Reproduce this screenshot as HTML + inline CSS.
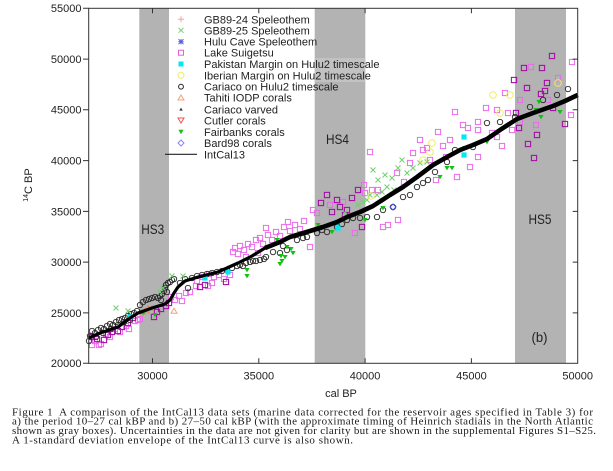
<!DOCTYPE html>
<html><head><meta charset="utf-8"><style>
html,body{margin:0;padding:0;background:#fff;}
svg{display:block;}
.sans{font-family:"Liberation Sans",Arial,sans-serif;}
.serif{font-family:"Liberation Serif","Times New Roman",serif;}
</style></head><body>
<svg width="613" height="471" viewBox="0 0 613 471" xmlns="http://www.w3.org/2000/svg">
<defs>
<rect id="sL" x="-2.6" y="-2.6" width="5.2" height="5.2" fill="none" stroke="#ec6aec" stroke-width="1"/>
<rect id="sD" x="-2.6" y="-2.6" width="5.2" height="5.2" fill="none" stroke="#a312a3" stroke-width="1.1"/>
<circle id="c" r="2.7" fill="none" stroke="#262626" stroke-width="0.9"/>
<path id="gx" d="M-2.5,-2.5L2.5,2.5M-2.5,2.5L2.5,-2.5" stroke="#6fd06f" stroke-width="1"/>
<path id="ox" d="M-2.5,-2.5L2.5,2.5M-2.5,2.5L2.5,-2.5" stroke="#e07a3a" stroke-width="1"/>
<path id="gt" d="M-2.6,-2L2.6,-2L0,2.4Z" fill="#12c012"/>
<rect id="cy" x="-2.6" y="-2.6" width="5.2" height="5.2" fill="#00e8f0"/>
<circle id="yc" r="3.3" fill="none" stroke="#eded60" stroke-width="1"/>
<path id="ot" d="M-3,2.2L3,2.2L0,-2.8Z" fill="none" stroke="#f4a080" stroke-width="1"/>
<path id="bd" d="M0,-3L3,0L0,3L-3,0Z" fill="none" stroke="#4848e0" stroke-width="1"/>
</defs>

<!-- gray HS boxes -->
<rect x="139.3" y="8.3" width="29.7" height="355" fill="#b3b3b3"/>
<rect x="314.7" y="8.3" width="50.6" height="355" fill="#b3b3b3"/>
<rect x="515" y="8.3" width="51" height="355" fill="#b3b3b3"/>
<rect x="314.7" y="58" width="50.6" height="24" fill="#c2c2c2"/>

<!-- light squares -->
<g>
<use href="#sL" x="95" y="341"/><use href="#sL" x="99" y="345"/><use href="#sL" x="92" y="345"/><use href="#sL" x="101" y="344"/><use href="#sL" x="106" y="334"/><use href="#sL" x="115" y="329"/><use href="#sL" x="126" y="326"/><use href="#sL" x="129" y="329"/><use href="#sL" x="140" y="319"/><use href="#sL" x="135" y="321"/><use href="#sL" x="110" y="337"/><use href="#sL" x="120" y="332"/><use href="#sL" x="138" y="320"/>
<use href="#sL" x="175" y="300"/><use href="#sL" x="179" y="296"/><use href="#sL" x="182" y="301"/><use href="#sL" x="186" y="293"/><use href="#sL" x="190" y="292"/><use href="#sL" x="171" y="297"/>
<use href="#sL" x="197" y="281"/><use href="#sL" x="203" y="277"/><use href="#sL" x="209" y="274"/><use href="#sL" x="214" y="277"/><use href="#sL" x="219" y="275"/><use href="#sL" x="224" y="279"/><use href="#sL" x="208" y="286"/><use href="#sL" x="212" y="283"/><use href="#sL" x="230" y="275"/><use href="#sL" x="196" y="286"/>
<use href="#sL" x="235" y="248"/><use href="#sL" x="240" y="246"/><use href="#sL" x="244" y="250"/><use href="#sL" x="248" y="244"/><use href="#sL" x="252" y="247"/><use href="#sL" x="256" y="240"/><use href="#sL" x="260" y="238"/><use href="#sL" x="263" y="244"/><use href="#sL" x="268" y="235"/><use href="#sL" x="272" y="240"/><use href="#sL" x="276" y="232"/><use href="#sL" x="280" y="236"/><use href="#sL" x="284" y="227"/><use href="#sL" x="290" y="231"/><use href="#sL" x="295" y="225"/><use href="#sL" x="300" y="229"/><use href="#sL" x="266" y="228"/><use href="#sL" x="288" y="222"/><use href="#sL" x="304" y="221"/><use href="#sL" x="258" y="253"/><use href="#sL" x="246" y="257"/><use href="#sL" x="238" y="254"/><use href="#sL" x="233" y="252"/>
<use href="#sL" x="310" y="247"/><use href="#sL" x="313" y="210"/><use href="#sL" x="317" y="213"/><use href="#sL" x="330" y="205"/><use href="#sL" x="343" y="202"/><use href="#sL" x="365" y="193"/><use href="#sL" x="372" y="190"/><use href="#sL" x="378" y="190"/><use href="#sL" x="383" y="227"/><use href="#sL" x="370" y="152"/><use href="#sL" x="413" y="153"/><use href="#sL" x="420" y="140"/><use href="#sL" x="397" y="173"/><use href="#sL" x="427" y="148"/><use href="#sL" x="355" y="233"/><use href="#sL" x="388" y="225"/><use href="#sL" x="398" y="220"/><use href="#sL" x="430" y="160"/><use href="#sL" x="436" y="180"/><use href="#sL" x="446" y="157"/><use href="#sL" x="404" y="182"/><use href="#sL" x="410" y="163"/><use href="#sL" x="364" y="185"/>
<use href="#sL" x="455" y="112"/><use href="#sL" x="463" y="125"/><use href="#sL" x="468" y="128"/><use href="#sL" x="478" y="122"/><use href="#sL" x="478" y="130"/><use href="#sL" x="497" y="110"/><use href="#sL" x="505" y="93"/><use href="#sL" x="508" y="113"/><use href="#sL" x="497" y="137"/><use href="#sL" x="478" y="157"/><use href="#sL" x="438" y="132"/><use href="#sL" x="423" y="150"/><use href="#sL" x="443" y="146"/><use href="#sL" x="470" y="167"/><use href="#sL" x="457" y="177"/><use href="#sL" x="492" y="133"/><use href="#sL" x="512" y="130"/><use href="#sL" x="520" y="122"/><use href="#sL" x="486" y="108"/><use href="#sL" x="502" y="146"/><use href="#sL" x="450" y="140"/>
<use href="#sL" x="572" y="62"/><use href="#sL" x="571" y="115"/><use href="#sL" x="531" y="67"/><use href="#sL" x="548" y="100"/><use href="#sL" x="558" y="78"/><use href="#sL" x="520" y="100"/><use href="#sL" x="536" y="125"/>
</g>
<!-- dark squares -->
<g>
<use href="#sD" x="92" y="337"/><use href="#sD" x="97" y="339"/><use href="#sD" x="104" y="340"/><use href="#sD" x="108" y="335"/><use href="#sD" x="112" y="332"/><use href="#sD" x="118" y="331"/><use href="#sD" x="122" y="327"/><use href="#sD" x="128" y="323"/><use href="#sD" x="133" y="318"/>
<use href="#sD" x="154" y="317"/><use href="#sD" x="161" y="309"/><use href="#sD" x="166" y="306"/><use href="#sD" x="169" y="303"/><use href="#sD" x="157" y="312"/>
<use href="#sD" x="200" y="287"/><use href="#sD" x="205" y="285"/><use href="#sD" x="226" y="282"/>
<use href="#sD" x="327" y="195"/><use href="#sD" x="337" y="200"/><use href="#sD" x="340" y="207"/><use href="#sD" x="347" y="210"/><use href="#sD" x="358" y="190"/><use href="#sD" x="362" y="227"/><use href="#sD" x="332" y="212"/><use href="#sD" x="352" y="198"/><use href="#sD" x="321" y="203"/><use href="#sD" x="345" y="215"/>
<use href="#sD" x="552" y="56"/><use href="#sD" x="524" y="68"/><use href="#sD" x="542" y="68"/><use href="#sD" x="514" y="80"/><use href="#sD" x="527" y="88"/><use href="#sD" x="541" y="94"/><use href="#sD" x="545" y="91"/><use href="#sD" x="519" y="128"/><use href="#sD" x="537" y="135"/><use href="#sD" x="553" y="108"/><use href="#sD" x="528" y="144"/><use href="#sD" x="534" y="158"/><use href="#sD" x="565" y="124"/><use href="#sD" x="516" y="113"/><use href="#sD" x="547" y="83"/>
</g>
<!-- circles (Cariaco on Hulu2) -->
<g>
<use href="#c" x="90" y="336"/><use href="#c" x="92" y="331"/><use href="#c" x="95" y="333"/><use href="#c" x="98" y="330"/><use href="#c" x="101" y="328"/><use href="#c" x="104" y="329"/><use href="#c" x="107" y="326"/><use href="#c" x="110" y="324"/><use href="#c" x="113" y="325"/><use href="#c" x="116" y="322"/><use href="#c" x="119" y="320"/><use href="#c" x="122" y="319"/><use href="#c" x="125" y="318"/><use href="#c" x="128" y="316"/><use href="#c" x="131" y="314"/><use href="#c" x="134" y="313"/><use href="#c" x="137" y="311"/><use href="#c" x="89" y="341"/><use href="#c" x="96" y="337"/><use href="#c" x="103" y="333"/><use href="#c" x="111" y="329"/><use href="#c" x="118" y="325"/><use href="#c" x="124" y="322"/><use href="#c" x="130" y="320"/>
<use href="#c" x="140" y="305"/><use href="#c" x="143" y="302"/><use href="#c" x="146" y="300"/><use href="#c" x="149" y="299"/><use href="#c" x="152" y="298"/><use href="#c" x="155" y="297"/><use href="#c" x="158" y="298"/><use href="#c" x="160" y="296"/><use href="#c" x="162" y="294"/><use href="#c" x="164" y="291"/><use href="#c" x="165" y="288"/><use href="#c" x="166" y="285"/><use href="#c" x="168" y="283"/><use href="#c" x="170" y="282"/><use href="#c" x="172" y="280"/><use href="#c" x="174" y="279"/><use href="#c" x="167" y="292"/><use href="#c" x="161" y="300"/>
<use href="#c" x="188" y="288"/><use href="#c" x="180" y="283"/><use href="#c" x="185" y="279"/><use href="#c" x="192" y="278"/><use href="#c" x="197" y="276"/><use href="#c" x="202" y="275"/><use href="#c" x="207" y="274"/><use href="#c" x="212" y="273"/><use href="#c" x="217" y="272"/><use href="#c" x="222" y="271"/><use href="#c" x="227" y="270"/><use href="#c" x="232" y="268"/><use href="#c" x="237" y="266"/><use href="#c" x="240" y="265"/><use href="#c" x="243" y="266"/><use href="#c" x="246" y="263"/><use href="#c" x="250" y="262"/><use href="#c" x="253" y="261"/><use href="#c" x="256" y="261"/><use href="#c" x="260" y="260"/><use href="#c" x="264" y="259"/><use href="#c" x="266" y="257"/><use href="#c" x="273" y="252"/><use href="#c" x="280" y="253"/><use href="#c" x="287" y="250"/><use href="#c" x="297" y="240"/><use href="#c" x="303" y="238"/><use href="#c" x="307" y="237"/><use href="#c" x="283" y="246"/>
<use href="#c" x="317" y="233"/><use href="#c" x="327" y="232"/><use href="#c" x="337" y="227"/><use href="#c" x="347" y="220"/><use href="#c" x="353" y="218"/><use href="#c" x="360" y="218"/><use href="#c" x="367" y="217"/><use href="#c" x="377" y="217"/><use href="#c" x="383" y="210"/><use href="#c" x="393" y="207"/><use href="#c" x="403" y="197"/><use href="#c" x="410" y="195"/><use href="#c" x="417" y="187"/><use href="#c" x="423" y="183"/><use href="#c" x="428" y="180"/><use href="#c" x="322" y="230"/><use href="#c" x="342" y="224"/>
<use href="#c" x="435" y="172"/><use href="#c" x="447" y="162"/><use href="#c" x="455" y="150"/><use href="#c" x="473" y="147"/><use href="#c" x="487" y="123"/><use href="#c" x="500" y="122"/><use href="#c" x="515" y="117"/>
<use href="#c" x="530" y="107"/><use href="#c" x="543" y="100"/><use href="#c" x="557" y="95"/><use href="#c" x="568" y="89"/>
</g>
<!-- green x -->
<g>
<use href="#gx" x="116" y="308"/><use href="#gx" x="128" y="311"/><use href="#gx" x="160" y="292"/><use href="#gx" x="163" y="288"/><use href="#gx" x="172" y="276"/><use href="#gx" x="183" y="276"/><use href="#gx" x="363" y="202"/><use href="#gx" x="367" y="200"/><use href="#gx" x="377" y="195"/><use href="#gx" x="382" y="192"/><use href="#gx" x="387" y="187"/><use href="#gx" x="407" y="173"/><use href="#gx" x="413" y="168"/><use href="#gx" x="420" y="163"/><use href="#gx" x="427" y="162"/><use href="#gx" x="373" y="170"/><use href="#gx" x="378" y="180"/><use href="#gx" x="385" y="175"/><use href="#gx" x="392" y="178"/><use href="#gx" x="398" y="168"/><use href="#gx" x="402" y="160"/><use href="#gx" x="370" y="195"/><use href="#gx" x="358" y="205"/><use href="#gx" x="345" y="213"/><use href="#gx" x="394" y="190"/>
<use href="#ox" x="143" y="312"/><use href="#ox" x="147" y="311"/><use href="#ox" x="150" y="308"/>
</g>
<!-- green triangles -->
<g>
<use href="#gt" x="143" y="313"/><use href="#gt" x="155" y="315"/><use href="#gt" x="247" y="276"/><use href="#gt" x="247" y="270"/><use href="#gt" x="282" y="261"/><use href="#gt" x="281" y="256"/><use href="#gt" x="285" y="257"/><use href="#gt" x="291" y="249"/><use href="#gt" x="280" y="264"/><use href="#gt" x="318" y="225"/><use href="#gt" x="322" y="227"/><use href="#gt" x="332" y="232"/><use href="#gt" x="365" y="220"/><use href="#gt" x="383" y="208"/><use href="#gt" x="277" y="240"/><use href="#gt" x="287" y="247"/><use href="#gt" x="293" y="253"/><use href="#gt" x="440" y="177"/><use href="#gt" x="447" y="168"/><use href="#gt" x="452" y="168"/><use href="#gt" x="487" y="142"/><use href="#gt" x="465" y="148"/><use href="#gt" x="539" y="102"/><use href="#gt" x="541" y="117"/><use href="#gt" x="560" y="112"/><use href="#gt" x="536" y="110"/>
</g>
<!-- cyan, yellow, misc -->
<g>
<use href="#cy" x="130" y="317"/><use href="#cy" x="205" y="278"/><use href="#cy" x="228" y="272"/><use href="#cy" x="338" y="228"/><use href="#cy" x="337" y="222"/><use href="#cy" x="464" y="137"/><use href="#cy" x="464" y="155"/>
<use href="#yc" x="432" y="143"/><use href="#yc" x="430" y="152"/><use href="#yc" x="423" y="160"/><use href="#yc" x="493" y="95"/><use href="#yc" x="510" y="95"/><use href="#yc" x="500" y="113"/><use href="#yc" x="558" y="83"/><use href="#yc" x="371" y="196"/>
<use href="#ot" x="174" y="311"/>
<use href="#bd" x="393" y="207"/>
</g>

<!-- IntCal13 curve -->
<path d="M88.7,338 L100,333 L118,327 L130,318 L138,313 L152,308 L165,304 L170,300 L174,293 L178,287 L185,281 L198,277 L218,272 L238,263 L252,256 L265,248 L280,242" fill="none" stroke="#000" stroke-width="3.2" stroke-linejoin="round"/>
<path d="M265,248 L280,242 L290,237 L310,231 L323,227 L337,222 L347,217 L360,212 L373,206 L390,195 L403,187 L417,177 L433,165 L447,157 L460,150 L473,145 L487,139 L500,130 L517,119 L533,113 L553,106 L565,101 L577.7,95" fill="none" stroke="#000" stroke-width="4.6" stroke-linejoin="round"/>

<!-- axes box -->
<rect x="88.7" y="8.3" width="489" height="355" fill="none" stroke="#333" stroke-width="1"/>
<g stroke="#333" stroke-width="1">
<path d="M83,8.3H88.7M83,59.1H88.7M83,109.8H88.7M83,160.6H88.7M83,211.4H88.7M83,262.1H88.7M83,312.9H88.7M83,363.3H88.7"/>
<path d="M572.7,59.1H577.7M572.7,109.8H577.7M572.7,160.6H577.7M572.7,211.4H577.7M572.7,262.1H577.7M572.7,312.9H577.7"/>
<path d="M152.5,363.3V358.3M258.8,363.3V358.3M365.1,363.3V358.3M471.4,363.3V358.3M152.5,8.3V13.3M258.8,8.3V13.3M365.1,8.3V13.3M471.4,8.3V13.3"/>
</g>

<!-- tick labels -->
<g class="sans" font-size="11" fill="#222" text-anchor="end">
<text x="81.5" y="12">55000</text>
<text x="81.5" y="63">50000</text>
<text x="81.5" y="113.7">45000</text>
<text x="81.5" y="164.5">40000</text>
<text x="81.5" y="215.3">35000</text>
<text x="81.5" y="266">30000</text>
<text x="81.5" y="316.8">25000</text>
<text x="81.5" y="367.2">20000</text>
</g>
<g class="sans" font-size="11" fill="#222" text-anchor="middle">
<text x="152.5" y="379.5">30000</text>
<text x="258.8" y="379.5">35000</text>
<text x="365.1" y="379.5">40000</text>
<text x="471.4" y="379.5">45000</text>
<text x="577.7" y="379.5">50000</text>
<text x="341" y="397">cal BP</text>
</g>
<text class="sans" transform="translate(32,185) rotate(-90)" font-size="11" fill="#222" text-anchor="middle"><tspan font-size="7" dy="-4">14</tspan><tspan dy="4">C BP</tspan></text>

<!-- HS labels -->
<g class="sans" font-size="14" fill="#222" text-anchor="middle">
<text x="152.7" y="234" textLength="23" lengthAdjust="spacingAndGlyphs">HS3</text>
<text x="337.5" y="144" textLength="23" lengthAdjust="spacingAndGlyphs">HS4</text>
<text x="540" y="224" textLength="23" lengthAdjust="spacingAndGlyphs">HS5</text>
<text x="539.5" y="342" textLength="16" lengthAdjust="spacingAndGlyphs">(b)</text>
</g>

<!-- legend markers -->
<g stroke-width="1" fill="none">
<path d="M181,16.3V22.3M178,19.3H184" stroke="#f7a0a0"/>
<path d="M178.5,27.8L183.5,32.8M178.5,32.8L183.5,27.8" stroke="#70d070"/>
<path d="M178.5,39.2L183.5,44.2M178.5,44.2L183.5,39.2M181,39V44.4M178.3,41.7H183.7" stroke="#5858e0"/>
<rect x="178.5" y="50.2" width="5" height="5" stroke="#e060e0"/>
<rect x="178.5" y="61.5" width="5" height="5" fill="#00e8f0" stroke="none"/>
<circle cx="181" cy="75.3" r="3" stroke="#eded60"/>
<circle cx="181" cy="86.7" r="2.4" stroke="#222"/>
<path d="M178,100L184,100L181,95Z" stroke="#f4a080"/>
<path d="M179.3,110.6L182.7,110.6L181,107.6Z" fill="#333" stroke="none"/>
<path d="M178,118L184,118L181,123Z" stroke="#f05050"/>
<path d="M178.5,129.8L183.5,129.8L181,134.2Z" fill="#10c010" stroke="none"/>
<path d="M181,140L184,143L181,146L178,143Z" stroke="#8888ee"/>
<path d="M165,154.3H197" stroke="#222" stroke-width="1.2"/>
</g>
<!-- legend text -->
<g class="sans" font-size="11" fill="#222">
<text x="204" y="23.3">GB89-24 Speleothem</text>
<text x="204" y="34.3">GB89-25 Speleothem</text>
<text x="204" y="45.7">Hulu Cave Speleothem</text>
<text x="204" y="56.7">Lake Suigetsu</text>
<text x="204" y="68">Pakistan Margin on Hulu2 timescale</text>
<text x="204" y="79.3">Iberian Margin on Hulu2 timescale</text>
<text x="204" y="90.7">Cariaco on Hulu2 timescale</text>
<text x="204" y="101.7">Tahiti IODP corals</text>
<text x="204" y="113.3">Cariaco varved</text>
<text x="204" y="124.3">Cutler corals</text>
<text x="204" y="136">Fairbanks corals</text>
<text x="204" y="147">Bard98 corals</text>
<text x="204" y="158.3">IntCal13</text>
</g>

<!-- caption -->
<g class="serif" font-size="11" fill="#1a1a1a">
<text x="12" y="415.3" textLength="581" lengthAdjust="spacing" xml:space="preserve">Figure 1  A comparison of the IntCal13 data sets (marine data corrected for the reservoir ages specified in Table 3) for</text>
<text x="12" y="424.7" textLength="581" lengthAdjust="spacing">a) the period 10–27 cal kBP and b) 27–50 cal kBP (with the approximate timing of Heinrich stadials in the North Atlantic</text>
<text x="12" y="434" textLength="584" lengthAdjust="spacing">shown as gray boxes). Uncertainties in the data are not given for clarity but are shown in the supplemental Figures S1–S25.</text>
<text x="12" y="443.3" textLength="341" lengthAdjust="spacing">A 1-standard deviation envelope of the IntCal13 curve is also shown.</text>
</g>
</svg>
</body></html>
